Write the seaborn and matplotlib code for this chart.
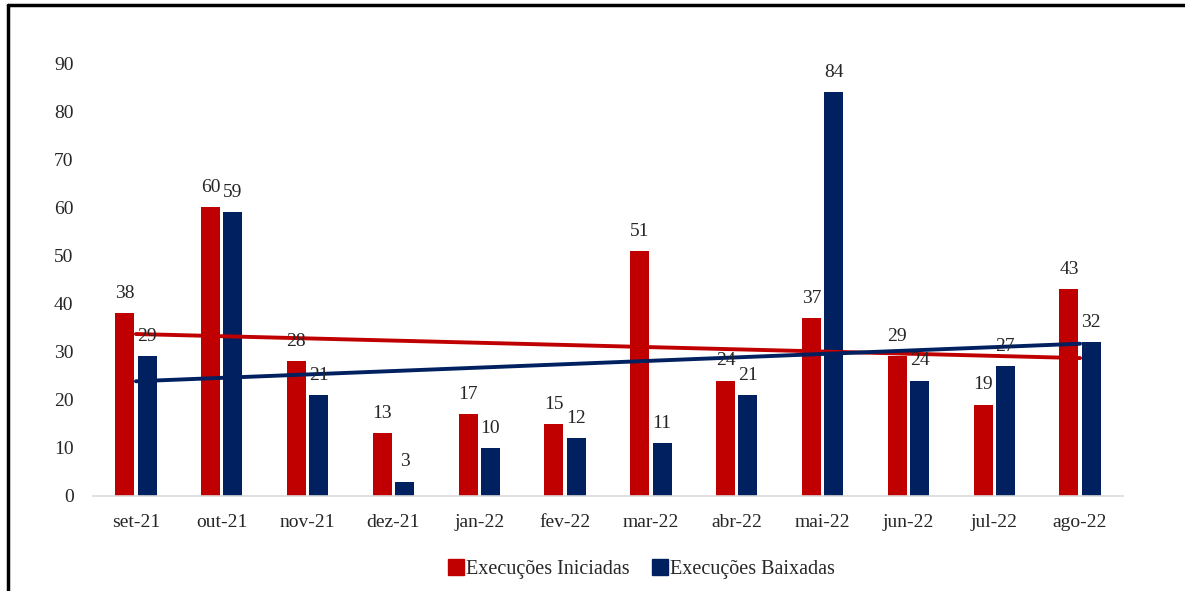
import numpy as np
import pandas as pd
import seaborn as sns
import matplotlib.pyplot as plt
from matplotlib.lines import Line2D

meses = ['set-21', 'out-21', 'nov-21', 'dez-21', 'jan-22', 'fev-22',
         'mar-22', 'abr-22', 'mai-22', 'jun-22', 'jul-22', 'ago-22']
iniciadas = [38, 60, 28, 13, 17, 15, 51, 24, 37, 29, 19, 43]
baixadas = [29, 59, 21, 3, 10, 12, 11, 21, 84, 24, 27, 32]
series = ['Execuções Iniciadas', 'Execuções Baixadas']
cores = ['#C00000', '#002060']

df = pd.DataFrame({
    'Mes': meses * 2,
    'Valor': iniciadas + baixadas,
    'Serie': [series[0]] * len(meses) + [series[1]] * len(meses),
})

sns.set_style('white')
plt.rcParams['font.family'] = ['Liberation Serif', 'DejaVu Serif']

fig = plt.figure(figsize=(11.85, 5.91), dpi=100)
ax = fig.add_axes([93 / 1185, 1 - 496 / 591, 1030 / 1185, 433 / 591])

sns.barplot(data=df, x='Mes', y='Valor', hue='Serie', order=meses,
            hue_order=series, palette=cores, width=0.52, gap=0.15,
            saturation=1, linewidth=0, legend=False, ax=ax)

for cont in ax.containers:
    ax.bar_label(cont, padding=8, fontsize=14)

# linhas de tendencia (linear)
x = np.arange(len(meses))
for vals, cor in zip([iniciadas, baixadas], cores):
    sns.regplot(x=x, y=np.array(vals), scatter=False, ci=None, truncate=True,
                color=cor, line_kws={'linewidth': 2.8}, ax=ax)

ax.set_xlim(-0.5, len(meses) - 0.5)
ax.set_ylim(0, 90)
ax.set_yticks(range(0, 91, 10))
ax.set_xlabel('')
ax.set_ylabel('')
ax.tick_params(axis='both', length=0, labelsize=14)
ax.tick_params(axis='x', pad=13)
ax.tick_params(axis='y', pad=14)
for s in ['top', 'right', 'left']:
    ax.spines[s].set_visible(False)
ax.spines['bottom'].set_color('#D9D9D9')
ax.spines['bottom'].set_linewidth(1.2)

handles = [Line2D([0], [0], marker='s', linestyle='', markersize=11,
                  markerfacecolor=c, markeredgecolor=c) for c in cores]
fig.legend(handles, series, loc='center', bbox_to_anchor=(640 / 1185, 1 - 569 / 591),
           ncol=2, frameon=False, fontsize=14.5, handletextpad=0.0,
           handlelength=1.0, columnspacing=1.0)

# moldura (topo e esquerda)
fig.add_artist(Line2D([8 / 1185, 1], [1 - 5 / 591, 1 - 5 / 591],
                      transform=fig.transFigure, color='black', linewidth=2.5))
fig.add_artist(Line2D([8 / 1185, 8 / 1185], [0, 1 - 5 / 591],
                      transform=fig.transFigure, color='black', linewidth=2.5))

fig.savefig('out.png', dpi=100)
